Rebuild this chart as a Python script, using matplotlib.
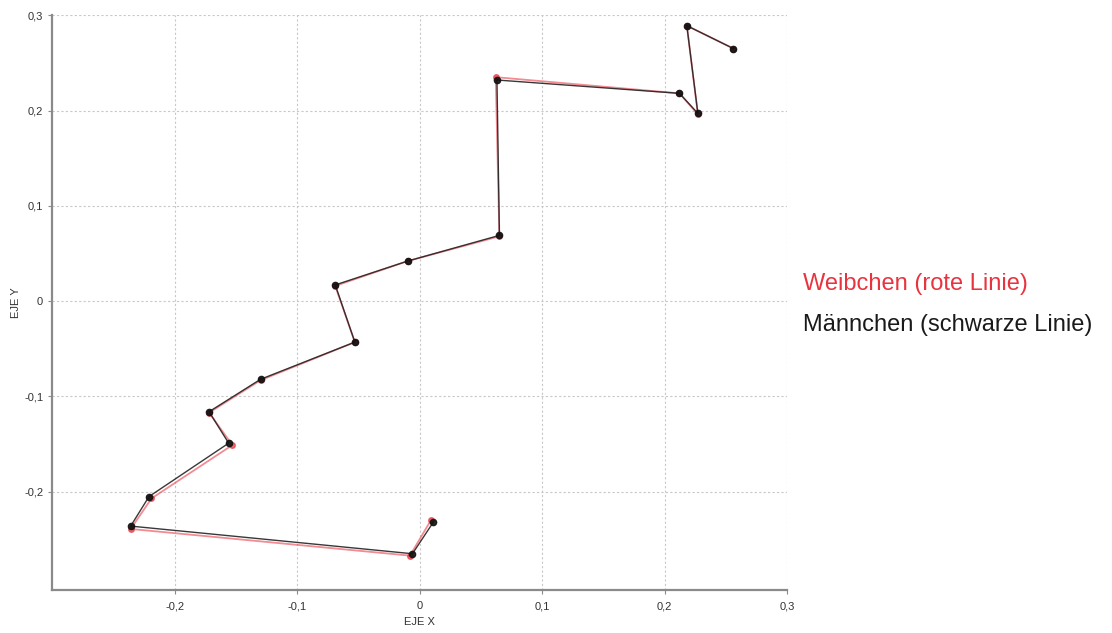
import matplotlib.pyplot as plt
from matplotlib.ticker import FuncFormatter

# Männchen (black path)
male_x = [0.011, -0.006, -0.236, -0.221, -0.156, -0.172, -0.130, -0.053, -0.069,
          -0.010, 0.065, 0.063, 0.212, 0.227, 0.218, 0.256]
male_y = [-0.232, -0.265, -0.236, -0.205, -0.149, -0.116, -0.082, -0.043, 0.017,
          0.042, 0.069, 0.232, 0.218, 0.197, 0.289, 0.265]

# Weibchen (red path)
female_x = [0.009, -0.008, -0.236, -0.219, -0.153, -0.172, -0.130, -0.053, -0.069,
            -0.010, 0.065, 0.062, 0.212, 0.227, 0.218, 0.256]
female_y = [-0.230, -0.267, -0.239, -0.207, -0.151, -0.117, -0.083, -0.043, 0.016,
            0.042, 0.068, 0.235, 0.218, 0.196, 0.289, 0.265]

x_ticks = [-0.2, -0.1, 0, 0.1, 0.2, 0.3]
y_ticks = [-0.2, -0.1, 0, 0.1, 0.2, 0.3]

plt.rcParams['font.family'] = ['Liberation Sans', 'DejaVu Sans']

fig = plt.figure(figsize=(11.12, 6.33), dpi=100)
ax = fig.add_axes([0.047, 0.068, 0.661, 0.908])

ax.plot(female_x, female_y, color='#ee5a64', lw=1.3, alpha=0.7, zorder=3,
        marker='o', markersize=4, markerfacecolor='#e8343f', markeredgecolor='#e8343f')
ax.plot(male_x, male_y, color='#222222', lw=1.0, alpha=0.9, zorder=4,
        marker='o', markersize=4.5, markerfacecolor='#111111', markeredgecolor='#111111')

ax.set_xlim(-0.3, 0.3)
ax.set_ylim(-0.303, 0.3)
ax.set_xticks(x_ticks)
ax.set_yticks(y_ticks)

def comma(v, pos):
    s = f"{v:.1f}".rstrip('0').rstrip('.') if v != 0 else "0"
    return s.replace('.', ',')

ax.xaxis.set_major_formatter(FuncFormatter(comma))
ax.yaxis.set_major_formatter(FuncFormatter(comma))

ax.grid(True, color='#c8c8c8', linestyle=(0, (2, 2)), linewidth=0.8)
ax.set_axisbelow(True)
for side in ('top', 'right'):
    ax.spines[side].set_visible(False)
for side in ('left', 'bottom'):
    ax.spines[side].set_color('#8a8a8a')
    ax.spines[side].set_linewidth(1.6)
ax.tick_params(axis='both', colors='#8a8a8a', labelcolor='#333333',
               labelsize=8, length=3, width=0.8)
ax.tick_params(axis='x', pad=5)

ax.set_xlabel('EJE X', fontsize=8, color='#333333', labelpad=4)
ax.set_ylabel('EJE Y', fontsize=8, color='#333333', labelpad=2)

fig.text(0.722, 0.552, 'Weibchen (rote Linie)', color='#e8343f', fontsize=17,
         va='center', ha='left')
fig.text(0.722, 0.486, 'Männchen (schwarze Linie)', color='#1a1a1a', fontsize=17,
         va='center', ha='left')

fig.savefig('out.png', dpi=100, facecolor='white')
